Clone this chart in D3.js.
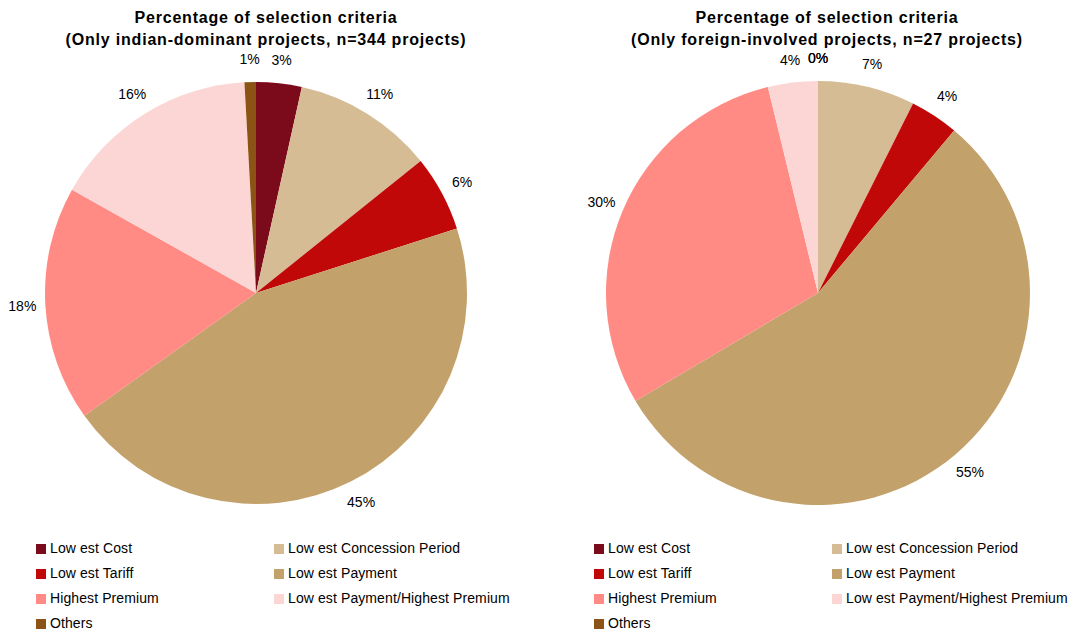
<!DOCTYPE html>
<html>
<head>
<meta charset="utf-8">
<script src="https://cdn.jsdelivr.net/npm/d3@7"></script>
<style>
  html, body { margin: 0; padding: 0; background: #fff; }
  svg { display: block; font-family: "Liberation Sans", Arial, sans-serif; }
</style>
</head>
<body>
<svg id="chart" width="1071" height="632"></svg>
<script>
const categories = ["Low est Cost", "Low est Concession Period", "Low est Tariff", "Low est Payment",
  "Highest Premium", "Low est Payment/Highest Premium", "Others"];
const colors = ["#7B0B1A", "#D5BC95", "#C10808", "#C3A16B", "#FF8B84", "#FCD6D4", "#8B5415"];
const indianCounts = [12, 37, 20, 155, 62, 55, 3];
const foreignPercent = [0, 7.4, 3.7, 55.4, 29.7, 3.8, 0];
const titlesLeft = ["Percentage of selection criteria", "(Only indian-dominant projects, n=344 projects)"];
const titlesRight = ["Percentage of selection criteria", "(Only foreign-involved projects, n=27 projects)"];

const svg = d3.select("#chart");

function drawPie(opts) {
  const { cx, cy, r, counts, titles, titleX, legendX1, legendX2 } = opts;
  const total = d3.sum(counts);
  const data = categories.map((c, i) => ({ name: c, value: counts[i], color: colors[i] }));
  const pie = d3.pie().value(d => d.value).sort(null);
  const arcs = pie(data);
  const arc = d3.arc().innerRadius(0).outerRadius(r);
  const labelArc = d3.arc().innerRadius(r + 23).outerRadius(r + 23);

  const g = svg.append("g").attr("transform", `translate(${cx},${cy})`);
  g.selectAll("path").data(arcs).join("path")
    .attr("d", arc)
    .attr("fill", d => d.data.color);

  g.selectAll("text.lbl").data(arcs).join("text")
    .attr("class", "lbl")
    .attr("transform", d => `translate(${labelArc.centroid(d)})`)
    .attr("text-anchor", "middle")
    .attr("dy", "0.35em")
    .attr("font-size", 14)
    .attr("fill", "#000")
    .text(d => Math.round(d.data.value / total * 100) + "%");

  const t = svg.append("text").attr("text-anchor", "middle")
    .attr("font-size", 16).attr("font-weight", "bold").attr("letter-spacing", 0.8).attr("fill", "#000");
  t.append("tspan").attr("x", titleX).attr("y", 23).text(titles[0]);
  t.append("tspan").attr("x", titleX).attr("y", 45).text(titles[1]);

  const leg = svg.append("g");
  data.forEach((d, i) => {
    const col = i % 2;
    const row = Math.floor(i / 2);
    const x = col === 0 ? legendX1 : legendX2;
    const y = 544 + row * 25;
    leg.append("rect").attr("x", x).attr("y", y).attr("width", 10).attr("height", 10).attr("fill", d.color);
    leg.append("text").attr("x", x + 14).attr("y", y + 8.5).attr("font-size", 14)
      .attr("letter-spacing", 0.1).attr("fill", "#000").text(d.name);
  });
}

drawPie({ cx: 256, cy: 293, r: 211, counts: indianCounts, titles: titlesLeft, titleX: 266, legendX1: 36, legendX2: 274 });
drawPie({ cx: 818, cy: 293, r: 212, counts: foreignPercent, titles: titlesRight, titleX: 827, legendX1: 594, legendX2: 832 });
</script>
</body>
</html>
